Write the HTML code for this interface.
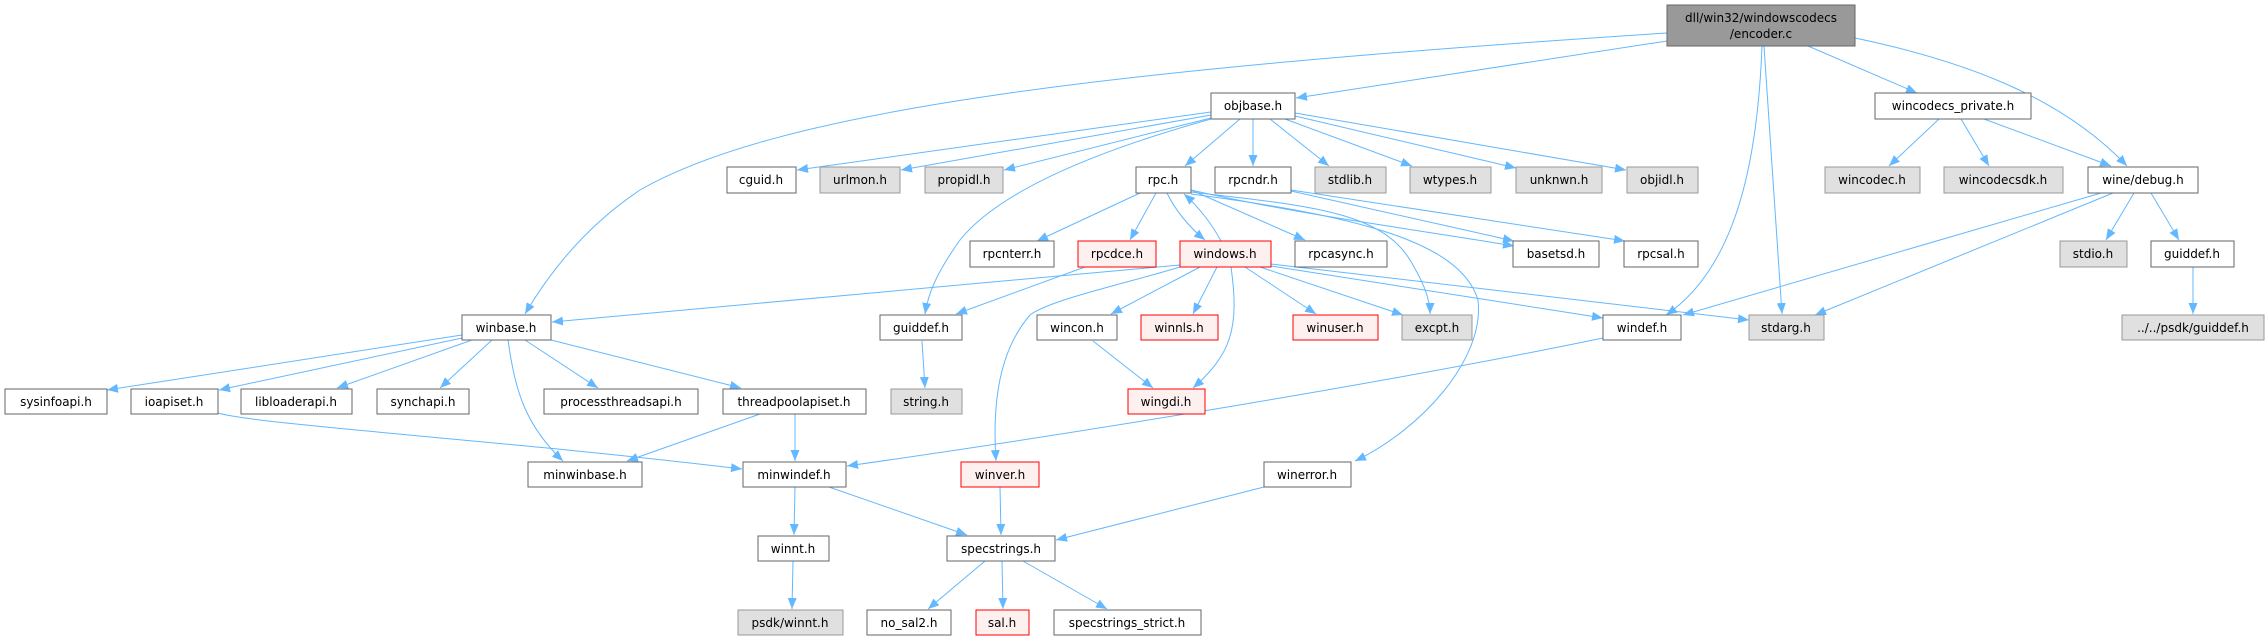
<!DOCTYPE html>
<html><head><meta charset="utf-8"><style>
html,body{margin:0;padding:0;background:#fff;}
svg{display:block;}
text{font-family:"DejaVu Sans","Liberation Sans",sans-serif;font-size:12px;fill:#000;}
.n rect{fill:#fff;stroke:#666;stroke-width:1;}
.g rect{fill:#e0e0e0;stroke:#999;stroke-width:1;}
.r rect{fill:#fff0f0;stroke:#f00;stroke-width:1;}
.e{fill:none;stroke:#63b8ff;stroke-width:1;marker-end:url(#a);}
</style></head><body>
<svg width="2265" height="637" viewBox="0 0 2265 637" xmlns="http://www.w3.org/2000/svg">
<defs><marker id="a" markerUnits="userSpaceOnUse" markerWidth="12" markerHeight="10" refX="11" refY="4.5" orient="auto"><path d="M0,0 L11,4.5 L0,9 z" fill="#63b8ff"/></marker></defs>
<g>
<path class="e" d="M1667,33 C1100,70 780,110 640,190 C580,230 545,280 525,314"/>
<path class="e" d="M1667,41 L1296,98"/>
<path class="e" d="M1808,46 L1917,93"/>
<path class="e" d="M1855,38 C1960,60 2060,95 2127,166"/>
<path class="e" d="M1762,46 C1758,150 1740,265 1666,315"/>
<path class="e" d="M1764,46 L1782,314"/>
<path class="e" d="M1211,112 L797,170"/>
<path class="e" d="M1211,115 L901,170"/>
<path class="e" d="M1211,118 L1004,170"/>
<path class="e" d="M1211,119 C1100,150 1000,190 960,240 C935,275 928,295 925,314"/>
<path class="e" d="M1240,119 L1185,166"/>
<path class="e" d="M1253,119 L1253,166"/>
<path class="e" d="M1270,119 L1329,166"/>
<path class="e" d="M1285,119 L1412,166"/>
<path class="e" d="M1295,116 L1516,168"/>
<path class="e" d="M1295,113 L1626,170"/>
<path class="e" d="M1140,193 L1037,241"/>
<path class="e" d="M1156,193 L1130,240"/>
<path class="e" d="M1167,193 C1175,210 1190,228 1205,240"/>
<path class="e" d="M1221,241 C1213,226 1200,208 1184,194"/>
<path class="e" d="M1191,190 L1305,240"/>
<path class="e" d="M1191,190 C1300,215 1420,230 1514,246"/>
<path class="e" d="M1191,192 C1300,205 1380,210 1410,260 C1425,285 1430,300 1430,314"/>
<path class="e" d="M1191,194 C1350,215 1460,240 1478,300 C1485,360 1420,430 1355,461"/>
<path class="e" d="M1291,191 L1514,241"/>
<path class="e" d="M1291,190 L1625,241"/>
<path class="e" d="M1085,267 L956,314"/>
<path class="e" d="M1180,265 L552,322"/>
<path class="e" d="M1180,267 C1120,285 1050,300 1030,315 C1000,350 992,400 996,461"/>
<path class="e" d="M1200,267 L1111,314"/>
<path class="e" d="M1217,267 L1193,314"/>
<path class="e" d="M1231,267 C1240,330 1230,355 1193,388"/>
<path class="e" d="M1245,267 L1316,314"/>
<path class="e" d="M1260,267 L1403,315"/>
<path class="e" d="M1271,266 L1603,318"/>
<path class="e" d="M1271,264 L1749,320"/>
<path class="e" d="M1093,341 L1153,388"/>
<path class="e" d="M922,341 L925,388"/>
<path class="e" d="M462,335 L107,390"/>
<path class="e" d="M462,338 L219,390"/>
<path class="e" d="M472,340 L337,388"/>
<path class="e" d="M492,340 L440,388"/>
<path class="e" d="M525,340 L598,388"/>
<path class="e" d="M551,340 L741,388"/>
<path class="e" d="M508,340 C515,390 525,425 563,461"/>
<path class="e" d="M760,414 L627,461"/>
<path class="e" d="M795,414 L795,461"/>
<path class="e" d="M218,413 C260,425 500,440 742,469"/>
<path class="e" d="M1603,338 C1400,380 1100,430 847,466"/>
<path class="e" d="M795,487 L794,535"/>
<path class="e" d="M829,487 L967,535"/>
<path class="e" d="M1000,487 L1001,535"/>
<path class="e" d="M1264,487 L1056,540"/>
<path class="e" d="M793,561 L792,609"/>
<path class="e" d="M985,561 L928,609"/>
<path class="e" d="M1002,561 L1003,609"/>
<path class="e" d="M1023,561 L1107,609"/>
<path class="e" d="M1939,119 L1889,166"/>
<path class="e" d="M1961,119 L1989,166"/>
<path class="e" d="M1984,119 L2111,166"/>
<path class="e" d="M2101,193 L1683,315"/>
<path class="e" d="M2113,193 L1815,315"/>
<path class="e" d="M2134,193 L2106,240"/>
<path class="e" d="M2151,193 L2179,240"/>
<path class="e" d="M2193,267 L2193,314"/>
</g>
<g>
<g><rect x="1667" y="5" width="188" height="41" fill="#999" stroke="#666"/><text x="1761" y="22" text-anchor="middle">dll/win32/windowscodecs</text><text x="1761" y="38" text-anchor="middle">/encoder.c</text></g>
<g class="n"><rect x="1211" y="93" width="84" height="26"/><text x="1253" y="110" text-anchor="middle">objbase.h</text></g>
<g class="n"><rect x="1875" y="93" width="156" height="26"/><text x="1953" y="110" text-anchor="middle">wincodecs_private.h</text></g>
<g class="n"><rect x="727" y="167" width="69" height="26"/><text x="761" y="184" text-anchor="middle">cguid.h</text></g>
<g class="g"><rect x="820" y="167" width="80" height="26"/><text x="860" y="184" text-anchor="middle">urlmon.h</text></g>
<g class="g"><rect x="925" y="167" width="78" height="26"/><text x="964" y="184" text-anchor="middle">propidl.h</text></g>
<g class="n"><rect x="1136" y="167" width="55" height="26"/><text x="1163" y="184" text-anchor="middle">rpc.h</text></g>
<g class="n"><rect x="1215" y="167" width="76" height="26"/><text x="1253" y="184" text-anchor="middle">rpcndr.h</text></g>
<g class="g"><rect x="1315" y="167" width="71" height="26"/><text x="1350" y="184" text-anchor="middle">stdlib.h</text></g>
<g class="g"><rect x="1410" y="167" width="81" height="26"/><text x="1450" y="184" text-anchor="middle">wtypes.h</text></g>
<g class="g"><rect x="1516" y="167" width="86" height="26"/><text x="1559" y="184" text-anchor="middle">unknwn.h</text></g>
<g class="g"><rect x="1627" y="167" width="71" height="26"/><text x="1662" y="184" text-anchor="middle">objidl.h</text></g>
<g class="g"><rect x="1825" y="167" width="95" height="26"/><text x="1872" y="184" text-anchor="middle">wincodec.h</text></g>
<g class="g"><rect x="1944" y="167" width="119" height="26"/><text x="2003" y="184" text-anchor="middle">wincodecsdk.h</text></g>
<g class="n"><rect x="2088" y="167" width="110" height="26"/><text x="2143" y="184" text-anchor="middle">wine/debug.h</text></g>
<g class="n"><rect x="970" y="241" width="84" height="26"/><text x="1012" y="258" text-anchor="middle">rpcnterr.h</text></g>
<g class="r"><rect x="1078" y="241" width="78" height="26"/><text x="1117" y="258" text-anchor="middle">rpcdce.h</text></g>
<g class="r"><rect x="1180" y="241" width="91" height="26"/><text x="1225" y="258" text-anchor="middle">windows.h</text></g>
<g class="n"><rect x="1295" y="241" width="92" height="26"/><text x="1341" y="258" text-anchor="middle">rpcasync.h</text></g>
<g class="n"><rect x="1513" y="241" width="86" height="26"/><text x="1556" y="258" text-anchor="middle">basetsd.h</text></g>
<g class="n"><rect x="1624" y="241" width="74" height="26"/><text x="1661" y="258" text-anchor="middle">rpcsal.h</text></g>
<g class="g"><rect x="2060" y="241" width="67" height="26"/><text x="2093" y="258" text-anchor="middle">stdio.h</text></g>
<g class="n"><rect x="2151" y="241" width="83" height="26"/><text x="2192" y="258" text-anchor="middle">guiddef.h</text></g>
<g class="n"><rect x="462" y="315" width="89" height="25"/><text x="506" y="332" text-anchor="middle">winbase.h</text></g>
<g class="n"><rect x="880" y="315" width="82" height="25"/><text x="921" y="332" text-anchor="middle">guiddef.h</text></g>
<g class="n"><rect x="1037" y="315" width="80" height="25"/><text x="1077" y="332" text-anchor="middle">wincon.h</text></g>
<g class="r"><rect x="1141" y="315" width="77" height="25"/><text x="1179" y="332" text-anchor="middle">winnls.h</text></g>
<g class="r"><rect x="1293" y="315" width="85" height="25"/><text x="1335" y="332" text-anchor="middle">winuser.h</text></g>
<g class="g"><rect x="1402" y="315" width="70" height="25"/><text x="1437" y="332" text-anchor="middle">excpt.h</text></g>
<g class="n"><rect x="1603" y="315" width="78" height="25"/><text x="1642" y="332" text-anchor="middle">windef.h</text></g>
<g class="g"><rect x="1749" y="315" width="75" height="25"/><text x="1786" y="332" text-anchor="middle">stdarg.h</text></g>
<g class="g"><rect x="2122" y="315" width="142" height="25"/><text x="2193" y="332" text-anchor="middle">../../psdk/guiddef.h</text></g>
<g class="n"><rect x="5" y="389" width="102" height="25"/><text x="56" y="406" text-anchor="middle">sysinfoapi.h</text></g>
<g class="n"><rect x="131" y="389" width="87" height="25"/><text x="174" y="406" text-anchor="middle">ioapiset.h</text></g>
<g class="n"><rect x="241" y="389" width="111" height="25"/><text x="296" y="406" text-anchor="middle">libloaderapi.h</text></g>
<g class="n"><rect x="377" y="389" width="92" height="25"/><text x="423" y="406" text-anchor="middle">synchapi.h</text></g>
<g class="n"><rect x="544" y="389" width="154" height="25"/><text x="621" y="406" text-anchor="middle">processthreadsapi.h</text></g>
<g class="n"><rect x="723" y="389" width="143" height="25"/><text x="794" y="406" text-anchor="middle">threadpoolapiset.h</text></g>
<g class="g"><rect x="891" y="389" width="71" height="25"/><text x="926" y="406" text-anchor="middle">string.h</text></g>
<g class="r"><rect x="1128" y="389" width="77" height="25"/><text x="1166" y="406" text-anchor="middle">wingdi.h</text></g>
<g class="n"><rect x="528" y="462" width="114" height="25"/><text x="585" y="479" text-anchor="middle">minwinbase.h</text></g>
<g class="n"><rect x="743" y="462" width="103" height="25"/><text x="794" y="479" text-anchor="middle">minwindef.h</text></g>
<g class="r"><rect x="961" y="462" width="78" height="25"/><text x="1000" y="479" text-anchor="middle">winver.h</text></g>
<g class="n"><rect x="1264" y="462" width="87" height="25"/><text x="1307" y="479" text-anchor="middle">winerror.h</text></g>
<g class="n"><rect x="758" y="536" width="71" height="25"/><text x="793" y="553" text-anchor="middle">winnt.h</text></g>
<g class="n"><rect x="947" y="536" width="108" height="25"/><text x="1001" y="553" text-anchor="middle">specstrings.h</text></g>
<g class="g"><rect x="738" y="610" width="105" height="25"/><text x="790" y="627" text-anchor="middle">psdk/winnt.h</text></g>
<g class="n"><rect x="867" y="610" width="84" height="25"/><text x="909" y="627" text-anchor="middle">no_sal2.h</text></g>
<g class="r"><rect x="976" y="610" width="53" height="25"/><text x="1002" y="627" text-anchor="middle">sal.h</text></g>
<g class="n"><rect x="1054" y="610" width="147" height="25"/><text x="1127" y="627" text-anchor="middle">specstrings_strict.h</text></g>
</g>
</svg>
</body></html>
